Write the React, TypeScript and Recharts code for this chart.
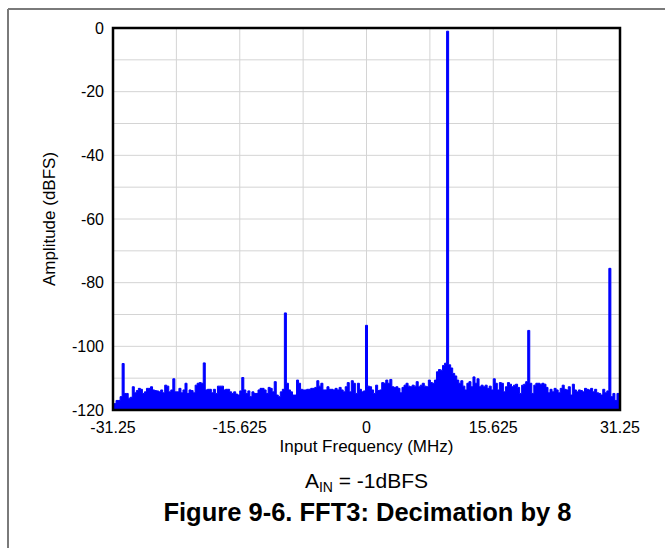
import React from 'react';
import { AreaChart, Area, XAxis, YAxis, CartesianGrid } from 'recharts';

// FFT bins: 0.25 MHz spacing from -31.25 MHz to +31.25 MHz
const START_MHZ = -31.25;
const BIN_MHZ = 0.25;

// noise floor, one value per bin (dBFS)
const floorDb = [
  -118, -118, -117, -117, -115.8, -114.5, -114.8, -114.8, -116.3, -116,
  -112.7, -114.6, -113.9, -113.2, -113.5, -114.8, -114.3, -113.2, -113.2, -112.7,
  -113.7, -113.9, -114, -114.3, -113.7, -114.6, -112.2, -112.5, -114.3, -113.7,
  -110.2, -114.3, -114.3, -113.2, -114.6, -113.7, -111.6, -114.8, -113.7, -113.9,
  -114.6, -112.2, -111.6, -111.4, -111.6, -113, -113.7, -113.5, -113.5, -114.6,
  -113.5, -114.8, -112.5, -112.5, -112.5, -113.7, -113.5, -113.5, -114.3, -114.8,
  -114.3, -115, -115.3, -114, -109.8, -113.7, -114.8, -114, -115.8, -114.3,
  -114.8, -114.8, -113.7, -113.2, -113.2, -113.7, -114.8, -112.9, -113.2, -114.3,
  -111.1, -115.3, -115.8, -114.3, -113.5, -112, -111.6, -113.7, -114.3, -115.3,
  -115.3, -110.6, -111.6, -113.5, -113.7, -113.7, -113.5, -113.5, -113.2, -113.2,
  -112.9, -110.8, -112.5, -111.6, -113.7, -113.7, -112.7, -113.5, -113.5, -113.7,
  -113.2, -113.7, -112.9, -113.7, -114.3, -112.7, -111.4, -114.3, -110.8, -111.6,
  -114.8, -111.6, -113.5, -114.3, -114, -113, -112.5, -112.7, -113.7, -114.8,
  -112.2, -113.9, -113.7, -111.4, -111.6, -110.6, -111.6, -110.4, -112.7, -112.9,
  -112.7, -113.2, -114.6, -112.9, -112.2, -111.6, -112.5, -112.7, -112.2, -112.5,
  -111.1, -112.7, -112.2, -111.6, -112.5, -112.7, -110.6, -111.4, -111.6, -110.6,
  -108, -107.3, -107.5, -106, -105.3, -104.5, -105.8, -106.8, -108.5, -109.3,
  -110.6, -111.6, -110.8, -112.5, -113.7, -111.6, -111.1, -112.7, -109.6, -111.6,
  -110.2, -112.7, -112.2, -112.7, -112.2, -113.2, -112.5, -113.7, -110.2, -111.6,
  -113.7, -111.4, -111.6, -114.3, -112.7, -111.4, -111.9, -112.7, -112.2, -111.9,
  -112.9, -114.8, -112.2, -111.9, -111.1, -112, -111.6, -114.8, -112.2, -111.6,
  -111.6, -111.9, -111.6, -111.9, -112.9, -114.6, -113.5, -114.3, -113.2, -113.7,
  -114.6, -113.2, -112.2, -113.5, -113.7, -112.7, -115.3, -111.9, -113.7, -114.3,
  -113.7, -113.9, -114.3, -113.2, -113.5, -113.7, -113.2, -114.3, -113.5, -114.6,
  -114.8, -115.3, -113.5, -114.6, -114, -113, -115.8, -114.8, -117, -114.8,
  -115,
];

// fundamental and spurs
const toneFreqs = [-30, -20, -10, 0, 10, 20, 30];
const toneDb = [-105.4, -105.2, -89.5, -93.4, -1, -95, -75.5];

const xTicks = [-31.25, -23.4375, -15.625, -7.8125, 0, 7.8125, 15.625, 23.4375, 31.25];
const xLabels = ['-31.25', '', '-15.625', '', '0', '', '15.625', '', '31.25'];
const yTicks = [-120, -110, -100, -90, -80, -70, -60, -50, -40, -30, -20, -10, 0];
const yLabels = ['-120', '', '-100', '', '-80', '', '-60', '', '-40', '', '-20', '', '0'];

const data = floorDb.map((db, i) => {
  const f = START_MHZ + i * BIN_MHZ;
  const t = toneFreqs.findIndex((tf) => Math.abs(tf - f) < 1e-6);
  return { f, db: t >= 0 ? toneDb[t] : db };
});

const FONT = '"Liberation Sans", Arial, Helvetica, sans-serif';
const frameLine = { stroke: '#000', strokeWidth: 2 };

export default function App() {
  return (
    <div
      style={{
        position: 'absolute',
        left: 0,
        top: 0,
        width: 665,
        height: 548,
        background: '#fff',
        fontFamily: FONT,
        color: '#000',
        overflow: 'hidden',
      }}
    >
      <div style={{ position: 'absolute', left: 0, top: 0 }}>
        <AreaChart
          width={665}
          height={548}
          data={data}
          margin={{ top: 28, right: 45, left: 53, bottom: 108 }}
        >
          <CartesianGrid stroke="#d4d4d4" strokeWidth={1} />
          <Area
            type="step"
            dataKey="db"
            baseValue={-120}
            stroke="#0000ff"
            strokeWidth={1}
            fill="#0000ff"
            fillOpacity={1}
            dot={false}
            activeDot={false}
            isAnimationActive={false}
          />
          <XAxis
            type="number"
            dataKey="f"
            domain={[-31.25, 31.25]}
            ticks={xTicks}
            tickFormatter={(v: number) => xLabels[xTicks.indexOf(v)] ?? ''}
            interval={0}
            allowDataOverflow
            height={30}
            tickLine={false}
            tickSize={6}
            tickMargin={6}
            axisLine={frameLine}
            tick={{ fill: '#000', fontSize: 16, fontFamily: FONT }}
          />
          <YAxis
            type="number"
            domain={[-120, 0]}
            ticks={yTicks}
            tickFormatter={(v: number) => yLabels[yTicks.indexOf(v)] ?? ''}
            interval={0}
            allowDataOverflow
            width={60}
            tickLine={false}
            tickSize={6}
            tickMargin={3}
            axisLine={frameLine}
            tick={{ fill: '#000', fontSize: 16, fontFamily: FONT }}
          />
        </AreaChart>
      </div>

      {/* page frame and plot frame, drawn over the chart */}
      <svg
        width={665}
        height={548}
        style={{ position: 'absolute', left: 0, top: 0, pointerEvents: 'none' }}
      >
        <line x1={8} y1={9} x2={665} y2={9} stroke="#7a7a7a" strokeWidth={2} />
        <line x1={8} y1={9} x2={8} y2={548} stroke="#7a7a7a" strokeWidth={2} />
        <rect x={113} y={28} width={507} height={382} fill="none" stroke="#000" strokeWidth={2.5} />
      </svg>

      {/* axis titles and captions */}
      <div
        style={{
          position: 'absolute',
          left: 50 - 100,
          top: 219 - 10,
          width: 200,
          height: 20,
          lineHeight: '20px',
          fontSize: 17,
          textAlign: 'center',
          transform: 'rotate(-90deg)',
        }}
      >
        Amplitude (dBFS)
      </div>
      <div style={{ position: 'absolute', left: 113, top: 437, width: 507, lineHeight: '20px', fontSize: 17, textAlign: 'center' }}>
        Input Frequency (MHz)
      </div>
      <div style={{ position: 'absolute', left: 113, top: 468, width: 507, lineHeight: '26px', fontSize: 21, textAlign: 'center' }}>
        A<sub style={{ fontSize: 14, verticalAlign: '-4px', lineHeight: 0 }}>IN</sub> = -1dBFS
      </div>
      <div
        style={{
          position: 'absolute',
          left: 0,
          top: 496,
          width: 735,
          lineHeight: '32px',
          fontSize: 25.5,
          fontWeight: 'bold',
          textAlign: 'center',
        }}
      >
        Figure 9-6. FFT3: Decimation by 8
      </div>
    </div>
  );
}
